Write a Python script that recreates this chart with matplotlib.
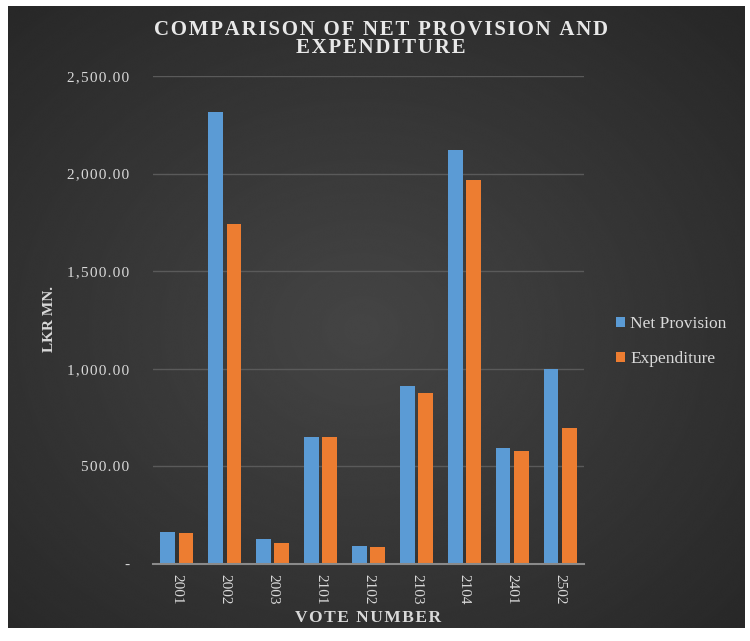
import numpy as np
import matplotlib
matplotlib.use("Agg")
import matplotlib.pyplot as plt

# Chart data
votes = ["2001", "2002", "2003", "2101", "2102", "2103", "2104", "2401", "2502"]
net_provision = [164, 2316, 128, 651, 92, 912, 2121, 594, 999]
expenditure = [159, 1742, 108, 651, 87, 876, 1967, 579, 697]
y_ticks = [0, 500, 1000, 1500, 2000, 2500]
y_tick_labels = ["-", "500.00", "1,000.00", "1,500.00", "2,000.00", "2,500.00"]

BLUE = "#5B9BD5"
ORANGE = "#ED7D31"
TEXT = "#d9d9d9"

plt.rcParams['font.family'] = ['Liberation Serif', 'DejaVu Serif']


def spaced(s, gap="\u200a"):
    # loose letter spacing, like the original rendering
    return gap.join(s)


fig = plt.figure(figsize=(7.5, 6.41), dpi=100, facecolor="white")

# Dark gradient background inside a thin white frame
bg = fig.add_axes([8 / 750, 13 / 641, 737 / 750, 622 / 641])
yy, xx = np.mgrid[0:1:600j, 0:1:600j]
r = np.sqrt((xx - 0.48) ** 2 + (yy - 0.52) ** 2)
grad = 0.27 - 0.16 * r
bg.imshow(grad, cmap="gray", vmin=0, vmax=1, aspect="auto", extent=[0, 1, 0, 1],
          interpolation="bicubic")
bg.set_axis_off()

ax = fig.add_axes([153 / 750, (641 - 564) / 641, 431 / 750, 488 / 641])
ax.patch.set_alpha(0)

x = np.arange(len(votes))
w = 0.31
ax.bar(x - 0.19, net_provision, w, color=BLUE, label="Net Provision", zorder=3)
ax.bar(x + 0.19, expenditure, w, color=ORANGE, label="Expenditure", zorder=3)

ax.set_xlim(-0.5, len(votes) - 0.5)
ax.set_ylim(0, 2500)
ax.set_yticks(y_ticks)
ax.set_yticklabels([spaced(t) for t in y_tick_labels], color=TEXT, fontsize=11)
ax.set_xticks(x)
ax.set_xticklabels(votes, rotation=-90, color=TEXT, fontsize=11)
ax.tick_params(length=0, pad=17)
ax.tick_params(axis="x", pad=7)

for s in ["top", "right", "left"]:
    ax.spines[s].set_visible(False)
ax.spines["bottom"].set_color("#8a8a8a")
ax.spines["bottom"].set_linewidth(1.5)
ax.spines["bottom"].set_zorder(4)
ax.yaxis.grid(True, color="#5a5a5a", linewidth=1, zorder=0)
ax.set_axisbelow(True)

ax.set_ylabel("LKR MN.", color=TEXT, fontsize=11, fontweight="bold")
ax.yaxis.set_label_coords(-0.225, 0.502)
ax.set_xlabel(spaced("VOTE NUMBER"), color=TEXT, fontsize=12.5, fontweight="bold", labelpad=4)

title = spaced("COMPARISON OF NET PROVISION AND") + "\n" + spaced("EXPENDITURE")
fig.text(0.508, 1 - 53 / 641, title, ha="center", va="baseline", color="#e8e8e8",
         fontsize=15, fontweight="bold", linespacing=0.87, multialignment="center")

leg = ax.legend(loc="center left", bbox_to_anchor=(1.037, 0.456), frameon=False,
                labelcolor=TEXT, fontsize=12.5, handlelength=0.55, handleheight=0.55,
                handletextpad=0.3, labelspacing=1.1)

fig.savefig("out.png", dpi=100, facecolor="white")
